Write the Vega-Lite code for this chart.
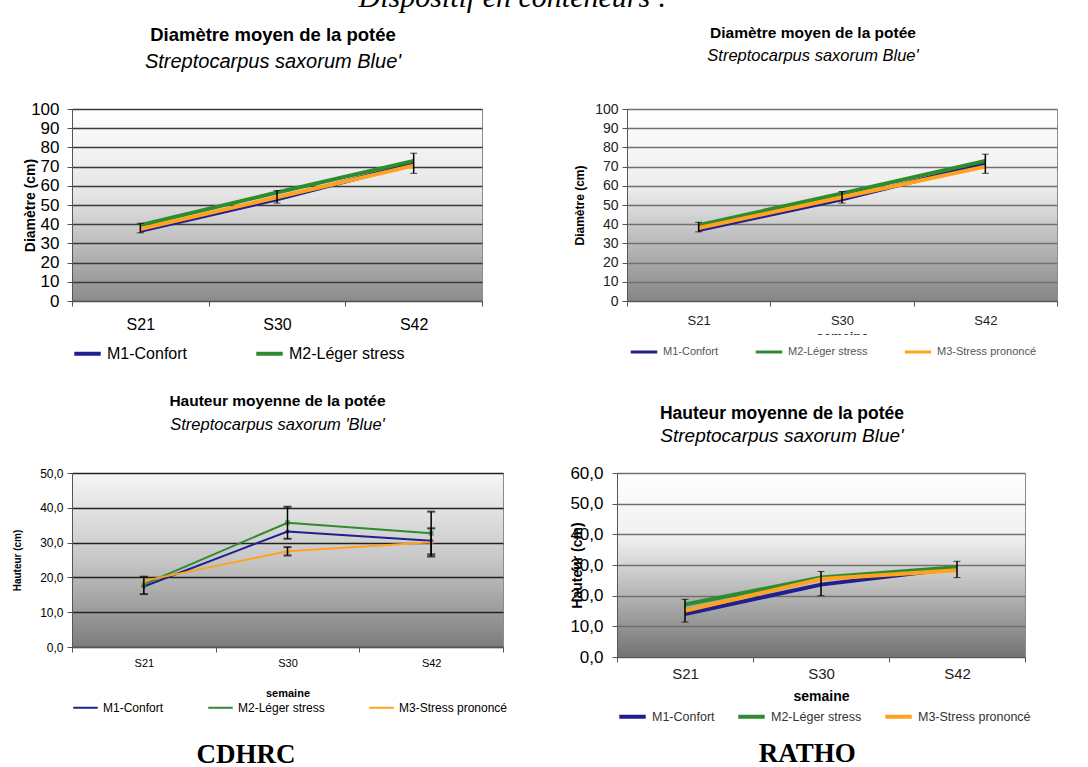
{
  "$schema": "https://vega.github.io/schema/vega-lite/v6.json",
  "background": "white",
  "padding": {"left": 12, "top": -17, "right": 0, "bottom": 0},
  "title": {"text": "Dispositif en conteneurs :", "font": "Liberation Serif", "fontStyle": "italic", "fontWeight": "normal", "fontSize": 30, "anchor": "middle", "frame": "bounds", "offset": 12, "dx": -22},
  "config": {
    "font": "Liberation Sans",
    "view": {"stroke": "#8c8c8c", "strokeWidth": 1},
    "axis": {"labelFont": "Liberation Sans", "titleFont": "Liberation Sans", "labelColor": "#000000", "titleColor": "#000000", "domainColor": "#555555", "tickColor": "#555555", "labelOverlap": false},
    "title": {"font": "Liberation Sans", "fontWeight": "bold", "color": "#000000", "subtitleFont": "Liberation Sans", "subtitleFontStyle": "italic", "subtitleColor": "#000000", "anchor": "middle", "frame": "group"},
    "legend": {"labelFont": "Liberation Sans", "labelColor": "#000000", "symbolType": "stroke", "orient": "bottom", "direction": "horizontal", "title": null}
  },
  "resolve": {"scale": {"color": "independent"}, "legend": {"color": "independent"}},
  "datasets": {
    "tl": [
      {"week": "S21", "series": "M1-Confort", "value": 36.5},
      {"week": "S30", "series": "M1-Confort", "value": 53},
      {"week": "S42", "series": "M1-Confort", "value": 71.5},
      {"week": "S21", "series": "M2-Léger stress", "value": 39.5},
      {"week": "S30", "series": "M2-Léger stress", "value": 56.5},
      {"week": "S42", "series": "M2-Léger stress", "value": 73},
      {"week": "S21", "series": "M3-Stress prononcé", "value": 37.5},
      {"week": "S30", "series": "M3-Stress prononcé", "value": 54},
      {"week": "S42", "series": "M3-Stress prononcé", "value": 70.5}
    ],
    "tl_err": [
      {"week": "S21", "lo": 35.5, "hi": 40.5},
      {"week": "S30", "lo": 51, "hi": 57.5},
      {"week": "S42", "lo": 66.5, "hi": 77}
    ],
    "tr": [
      {"week": "S21", "series": "M1-Confort", "value": 37},
      {"week": "S30", "series": "M1-Confort", "value": 53},
      {"week": "S42", "series": "M1-Confort", "value": 71.5},
      {"week": "S21", "series": "M2-Léger stress", "value": 39.5},
      {"week": "S30", "series": "M2-Léger stress", "value": 56},
      {"week": "S42", "series": "M2-Léger stress", "value": 73},
      {"week": "S21", "series": "M3-Stress prononcé", "value": 38},
      {"week": "S30", "series": "M3-Stress prononcé", "value": 54},
      {"week": "S42", "series": "M3-Stress prononcé", "value": 70}
    ],
    "tr_err": [
      {"week": "S21", "lo": 36, "hi": 41},
      {"week": "S30", "lo": 51, "hi": 57},
      {"week": "S42", "lo": 66.5, "hi": 76.5}
    ],
    "bl": [
      {"week": "S21", "series": "M1-Confort", "value": 17.4},
      {"week": "S30", "series": "M1-Confort", "value": 33.2},
      {"week": "S42", "series": "M1-Confort", "value": 30.5},
      {"week": "S21", "series": "M2-Léger stress", "value": 18.0},
      {"week": "S30", "series": "M2-Léger stress", "value": 35.7},
      {"week": "S42", "series": "M2-Léger stress", "value": 32.7},
      {"week": "S21", "series": "M3-Stress prononcé", "value": 19.0},
      {"week": "S30", "series": "M3-Stress prononcé", "value": 27.5},
      {"week": "S42", "series": "M3-Stress prononcé", "value": 30.1}
    ],
    "bl_err": [
      {"week": "S21", "lo": 15.2, "hi": 20.2},
      {"week": "S30", "lo": 31.1, "hi": 40.3},
      {"week": "S30", "lo": 26.3, "hi": 28.7},
      {"week": "S42", "lo": 26.6, "hi": 38.9},
      {"week": "S42", "lo": 26.0, "hi": 34.1}
    ],
    "br": [
      {"week": "S21", "series": "M1-Confort", "value": 14.0},
      {"week": "S30", "series": "M1-Confort", "value": 23.6},
      {"week": "S42", "series": "M1-Confort", "value": 28.9},
      {"week": "S21", "series": "M2-Léger stress", "value": 17.1},
      {"week": "S30", "series": "M2-Léger stress", "value": 25.9},
      {"week": "S42", "series": "M2-Léger stress", "value": 29.3},
      {"week": "S21", "series": "M3-Stress prononcé", "value": 15.1},
      {"week": "S30", "series": "M3-Stress prononcé", "value": 25.4},
      {"week": "S42", "series": "M3-Stress prononcé", "value": 28.3}
    ],
    "br_err": [
      {"week": "S21", "lo": 11.4, "hi": 18.8},
      {"week": "S30", "lo": 20.0, "hi": 27.9},
      {"week": "S42", "lo": 25.9, "hi": 31.2}
    ]
  },
  "vconcat": [
    {
      "spacing": 90,
      "resolve": {"scale": {"color": "independent"}, "legend": {"color": "independent"}},
      "hconcat": [
        {
          "width": 410, "height": 192,
          "view": {"stroke": "#8c8c8c", "fill": {"gradient": "linear", "x1": 0, "y1": 0, "x2": 0, "y2": 1, "stops": [{"offset": 0, "color": "#ffffff"}, {"offset": 0.45, "color": "#e4e4e4"}, {"offset": 0.75, "color": "#b4b4b4"}, {"offset": 1, "color": "#8a8a8a"}]}},
          "title": {"text": "Diamètre moyen  de la potée", "subtitle": "Streptocarpus saxorum Blue'", "fontSize": 18.5, "subtitleFontSize": 20, "subtitlePadding": 8, "offset": 28, "dx": -4},
          "layer": [
            {
              "data": {"name": "tl"},
              "mark": {"type": "line", "strokeWidth": 4},
              "encoding": {
                "x": {"field": "week", "type": "ordinal", "bandPosition": 0.5, "scale": {"type": "band", "paddingInner": 0, "paddingOuter": 0, "domain": ["S21", "S30", "S42"]}, "axis": {"title": null, "labelAngle": 0, "labelFontSize": 16, "labelPadding": 10, "tickBand": "extent", "tickSize": 5}},
                "y": {"field": "value", "type": "quantitative", "title": "Diamètre (cm)", "scale": {"domain": [0, 100], "nice": false}, "axis": {"titleFontSize": 14, "titlePadding": -7, "values": [0, 10, 20, 30, 40, 50, 60, 70, 80, 90, 100], "labelFontSize": 17, "labelPadding": 8, "tickSize": 5, "grid": true, "gridColor": "#3a3a3a", "gridWidth": 1.5}},
                "color": {"field": "series", "type": "nominal", "scale": {"domain": ["M1-Confort", "M2-Léger stress", "M3-Stress prononcé"], "range": ["#1f1f8f", "#2e8b2e", "#ffa21f"]}, "legend": {"values": ["M1-Confort", "M2-Léger stress"], "labelFontSize": 16, "symbolSize": 700, "symbolStrokeWidth": 4, "columnPadding": 60, "offset": 6}}
              }
            },
            {
              "data": {"name": "tl_err"},
              "mark": {"type": "errorbar", "ticks": {"size": 7, "color": "#000000"}, "rule": {"color": "#000000", "strokeWidth": 1.5}},
              "encoding": {
                "x": {"field": "week", "type": "ordinal", "bandPosition": 0.5},
                "y": {"field": "lo", "type": "quantitative", "title": "Diamètre (cm)", "axis": {"titleFontSize": 14, "titlePadding": -7, "values": [0, 10, 20, 30, 40, 50, 60, 70, 80, 90, 100], "labelFontSize": 17, "labelPadding": 8, "tickSize": 5, "grid": true, "gridColor": "#3a3a3a", "gridWidth": 1.5}},
                "y2": {"field": "hi"}
              }
            }
          ]
        },
        {
          "width": 430, "height": 192,
          "view": {"stroke": "#8c8c8c", "fill": {"gradient": "linear", "x1": 0, "y1": 0, "x2": 0, "y2": 1, "stops": [{"offset": 0, "color": "#ffffff"}, {"offset": 0.4, "color": "#eeeeee"}, {"offset": 0.7, "color": "#b8b8b8"}, {"offset": 1, "color": "#858585"}]}},
          "title": {"text": "Diamètre moyen  de la potée", "subtitle": "Streptocarpus saxorum Blue'", "fontSize": 15.5, "subtitleFontSize": 16.5, "subtitlePadding": 6, "offset": 38, "dx": -29},
          "layer": [
            {
              "data": {"name": "tr"},
              "mark": {"type": "line", "strokeWidth": 4},
              "encoding": {
                "x": {"field": "week", "type": "ordinal", "bandPosition": 0.5, "scale": {"type": "band", "paddingInner": 0, "paddingOuter": 0, "domain": ["S21", "S30", "S42"]}, "axis": {"title": "semaine", "titleFontSize": 13, "titleColor": "#333333", "titlePadding": 3, "labelColor": "#222222", "labelAngle": 0, "labelFontSize": 13, "labelPadding": 8, "tickBand": "extent", "tickSize": 5}},
                "y": {"field": "value", "type": "quantitative", "title": "Diamètre (cm)", "scale": {"domain": [0, 100], "nice": false}, "axis": {"titleFontSize": 12, "titlePadding": 8, "values": [0, 10, 20, 30, 40, 50, 60, 70, 80, 90, 100], "labelFontSize": 14, "labelColor": "#222222", "labelPadding": 4, "tickSize": 5, "grid": true, "gridColor": "#707070", "gridWidth": 1.5}},
                "color": {"field": "series", "type": "nominal", "scale": {"domain": ["M1-Confort", "M2-Léger stress", "M3-Stress prononcé"], "range": ["#1f1f8f", "#2e8b2e", "#ffa21f"]}, "legend": {"labelFontSize": 11, "labelColor": "#555555", "symbolSize": 700, "symbolStrokeWidth": 3, "columnPadding": 30, "offset": -8, "fillColor": "#ffffff", "padding": 2}}
              }
            },
            {
              "data": {"name": "tr_err"},
              "mark": {"type": "errorbar", "ticks": {"size": 7, "color": "#000000"}, "rule": {"color": "#000000", "strokeWidth": 1.5}},
              "encoding": {
                "x": {"field": "week", "type": "ordinal", "bandPosition": 0.5},
                "y": {"field": "lo", "type": "quantitative", "title": "Diamètre (cm)", "axis": {"titleFontSize": 12, "titlePadding": 8, "values": [0, 10, 20, 30, 40, 50, 60, 70, 80, 90, 100], "labelFontSize": 14, "labelColor": "#222222", "labelPadding": 4, "tickSize": 5, "grid": true, "gridColor": "#707070", "gridWidth": 1.5}},
                "y2": {"field": "hi"}
              }
            }
          ]
        }
      ]
    },
    {
      "spacing": 61,
      "resolve": {"scale": {"color": "independent"}, "legend": {"color": "independent"}},
      "hconcat": [
        {
          "title": {"text": "CDHRC", "orient": "bottom", "font": "Liberation Serif", "fontSize": 27, "fontWeight": "bold", "frame": "bounds", "anchor": "middle", "offset": 28, "dx": -14},
          "vconcat": [
            {
              "width": 431, "height": 174,
              "view": {"stroke": "#8c8c8c", "fill": {"gradient": "linear", "x1": 0, "y1": 0, "x2": 0, "y2": 1, "stops": [{"offset": 0, "color": "#f6f6f6"}, {"offset": 0.5, "color": "#c6c6c6"}, {"offset": 1, "color": "#7c7c7c"}]}},
              "title": {"text": "Hauteur moyenne de la potée", "subtitle": "Streptocarpus saxorum 'Blue'", "fontSize": 15.5, "subtitleFontSize": 16.5, "subtitlePadding": 7, "offset": 34, "dx": -10},
              "layer": [
                {
                  "data": {"name": "bl"},
                  "mark": {"type": "line", "strokeWidth": 2},
                  "encoding": {
                    "x": {"field": "week", "type": "ordinal", "bandPosition": 0.5, "scale": {"type": "band", "paddingInner": 0, "paddingOuter": 0, "domain": ["S21", "S30", "S42"]}, "axis": {"title": "semaine", "titleFontSize": 11, "titlePadding": 19, "labelAngle": 0, "labelFontSize": 11, "labelPadding": 5, "tickBand": "extent", "tickSize": 5}},
                    "y": {"field": "value", "type": "quantitative", "title": "Hauteur (cm)", "scale": {"domain": [0, 50], "nice": false}, "axis": {"titleFontSize": 10, "titlePadding": 17, "values": [0, 10, 20, 30, 40, 50], "labelExpr": "replace(format(datum.value, '.1f'), '.', ',')", "labelFontSize": 12, "labelPadding": 4, "tickSize": 5, "grid": true, "gridColor": "#222222", "gridWidth": 1.5}},
                    "color": {"field": "series", "type": "nominal", "scale": {"domain": ["M1-Confort", "M2-Léger stress", "M3-Stress prononcé"], "range": ["#1f1f8f", "#2e8b2e", "#ffa21f"]}, "legend": {"labelFontSize": 12, "symbolSize": 600, "symbolStrokeWidth": 2, "columnPadding": 40, "offset": -5}}
                  }
                },
                {
                  "data": {"name": "bl"},
                  "transform": [{"filter": "datum.series === 'M1-Confort'"}],
                  "mark": {"type": "point", "filled": true, "size": 30, "shape": "diamond", "color": "#1f1f8f"},
                  "encoding": {
                    "x": {"field": "week", "type": "ordinal", "bandPosition": 0.5},
                    "y": {"field": "value", "type": "quantitative", "title": "Hauteur (cm)", "axis": {"titleFontSize": 10, "titlePadding": 17, "values": [0, 10, 20, 30, 40, 50], "labelExpr": "replace(format(datum.value, '.1f'), '.', ',')", "labelFontSize": 12, "labelPadding": 4, "tickSize": 5, "grid": true, "gridColor": "#222222", "gridWidth": 1.5}}
                  }
                },
                {
                  "data": {"name": "bl"},
                  "transform": [{"filter": "datum.series === 'M2-Léger stress'"}],
                  "mark": {"type": "point", "filled": true, "size": 25, "shape": "square", "color": "#2e8b2e"},
                  "encoding": {
                    "x": {"field": "week", "type": "ordinal", "bandPosition": 0.5},
                    "y": {"field": "value", "type": "quantitative", "title": "Hauteur (cm)", "axis": {"titleFontSize": 10, "titlePadding": 17, "values": [0, 10, 20, 30, 40, 50], "labelExpr": "replace(format(datum.value, '.1f'), '.', ',')", "labelFontSize": 12, "labelPadding": 4, "tickSize": 5, "grid": true, "gridColor": "#222222", "gridWidth": 1.5}}
                  }
                },
                {
                  "data": {"name": "bl"},
                  "transform": [{"filter": "datum.series === 'M3-Stress prononcé'"}],
                  "mark": {"type": "point", "filled": true, "size": 35, "shape": "triangle-up", "color": "#ff8c1a"},
                  "encoding": {
                    "x": {"field": "week", "type": "ordinal", "bandPosition": 0.5},
                    "y": {"field": "value", "type": "quantitative", "title": "Hauteur (cm)", "axis": {"titleFontSize": 10, "titlePadding": 17, "values": [0, 10, 20, 30, 40, 50], "labelExpr": "replace(format(datum.value, '.1f'), '.', ',')", "labelFontSize": 12, "labelPadding": 4, "tickSize": 5, "grid": true, "gridColor": "#222222", "gridWidth": 1.5}}
                  }
                },
                {
                  "data": {"name": "bl_err"},
                  "mark": {"type": "errorbar", "ticks": {"size": 8, "color": "#000000", "thickness": 2}, "rule": {"color": "#000000", "strokeWidth": 1.5}},
                  "encoding": {
                    "x": {"field": "week", "type": "ordinal", "bandPosition": 0.5},
                    "y": {"field": "lo", "type": "quantitative", "title": "Hauteur (cm)", "axis": {"titleFontSize": 10, "titlePadding": 17, "values": [0, 10, 20, 30, 40, 50], "labelExpr": "replace(format(datum.value, '.1f'), '.', ',')", "labelFontSize": 12, "labelPadding": 4, "tickSize": 5, "grid": true, "gridColor": "#222222", "gridWidth": 1.5}},
                    "y2": {"field": "hi"}
                  }
                }
              ]
            }
          ]
        },
        {
          "title": {"text": "RATHO", "orient": "bottom", "font": "Liberation Serif", "fontSize": 27, "fontWeight": "bold", "frame": "bounds", "anchor": "middle", "offset": 16, "dx": 7},
          "vconcat": [
            {
              "width": 408, "height": 184,
              "view": {"stroke": "#8c8c8c", "fill": {"gradient": "linear", "x1": 0, "y1": 0, "x2": 0, "y2": 1, "stops": [{"offset": 0, "color": "#ffffff"}, {"offset": 0.35, "color": "#f0f0f0"}, {"offset": 0.6, "color": "#c0c0c0"}, {"offset": 1, "color": "#727272"}]}},
              "title": {"text": "Hauteur moyenne de la potée", "subtitle": "Streptocarpus saxorum Blue'", "fontSize": 17.5, "subtitleFontSize": 19, "subtitlePadding": 5, "offset": 18, "dx": -39},
              "layer": [
                {
                  "data": {"name": "br"},
                  "mark": {"type": "line", "strokeWidth": 4},
                  "encoding": {
                    "x": {"field": "week", "type": "ordinal", "bandPosition": 0.5, "scale": {"type": "band", "paddingInner": 0, "paddingOuter": 0, "domain": ["S21", "S30", "S42"]}, "axis": {"title": "semaine", "titleFontSize": 14, "titlePadding": 8, "labelAngle": 0, "labelFontSize": 15, "labelColor": "#222222", "labelPadding": 4, "tickBand": "extent", "tickSize": 5}},
                    "y": {"field": "value", "type": "quantitative", "title": "Hauteur (cm)", "scale": {"domain": [0, 60], "nice": false}, "axis": {"titleFontSize": 14, "titlePadding": -15, "values": [0, 10, 20, 30, 40, 50, 60], "labelExpr": "replace(format(datum.value, '.1f'), '.', ',')", "labelFontSize": 17, "labelPadding": 9, "tickSize": 5, "grid": true, "gridColor": "#707070", "gridWidth": 1.5}},
                    "color": {"field": "series", "type": "nominal", "scale": {"domain": ["M1-Confort", "M2-Léger stress", "M3-Stress prononcé"], "range": ["#1f1f8f", "#2e8b2e", "#ffa21f"]}, "legend": {"labelFontSize": 12.5, "labelColor": "#333333", "symbolSize": 700, "symbolStrokeWidth": 4, "columnPadding": 15, "offset": -3}}
                  }
                },
                {
                  "data": {"name": "br_err"},
                  "mark": {"type": "errorbar", "ticks": {"size": 7, "color": "#000000"}, "rule": {"color": "#000000", "strokeWidth": 1.5}},
                  "encoding": {
                    "x": {"field": "week", "type": "ordinal", "bandPosition": 0.5},
                    "y": {"field": "lo", "type": "quantitative", "title": "Hauteur (cm)", "axis": {"titleFontSize": 14, "titlePadding": -15, "values": [0, 10, 20, 30, 40, 50, 60], "labelExpr": "replace(format(datum.value, '.1f'), '.', ',')", "labelFontSize": 17, "labelPadding": 9, "tickSize": 5, "grid": true, "gridColor": "#707070", "gridWidth": 1.5}},
                    "y2": {"field": "hi"}
                  }
                }
              ]
            }
          ]
        }
      ]
    }
  ],
  "spacing": 30
}
